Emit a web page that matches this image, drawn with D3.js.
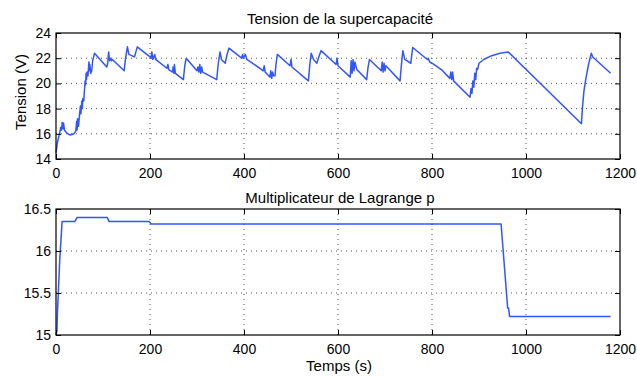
<!DOCTYPE html>
<html><head><meta charset="utf-8">
<script src="https://cdn.jsdelivr.net/npm/d3@7"></script>
<style>
body{margin:0;background:#fff;}
text{font-family:"Liberation Sans",Arial,Helvetica,sans-serif;fill:#000;}
</style></head>
<body>
<svg id="c" width="637" height="376"></svg>
<script>
// Time (s) and voltage (V) of the supercapacitor
const tensionT = [0,3,8,10,12,13,15,16,18,22,30,38,42,44,45,46,48,50,52,53,55,56,57,59,62,63,64,65,66,68,70,71,72,74,76,78,80,82,108,110,112,114,116,118,120,145,148,152,155,167,170,173,200,202,204,206,210,212,236,238,240,248,249,251,252,254,271,274,277,300,302,304,306,308,310,312,342,345,349,352,360,364,368,395,397,399,403,406,434,441,443,445,450,455,457,459,461,463,466,468,471,498,500,502,537,540,543,548,555,560,564,596,598,600,626,628,630,632,634,636,640,661,664,667,692,694,696,698,700,702,732,735,738,742,755,757,759,790,792,795,800,820,838,840,842,844,846,881,883,885,887,889,891,893,895,897,900,910,927,945,962,1118,1120,1123,1127,1133,1139,1142,1180];
const tensionV = [14.5,15.3,16.1,16.5,16.3,16.9,16.4,16.85,16.3,16.1,15.9,16.0,16.2,17.0,16.3,17.2,16.6,17.5,18.2,17.6,18.6,18.0,18.8,18.6,20.2,19.9,20.8,20.3,20.9,20.6,21.7,21.0,21.5,20.8,21.0,21.8,22.1,22.4,21.3,21.6,22.5,21.8,22.0,21.8,21.9,21.0,22.0,22.9,22.3,22.1,22.5,22.9,22.1,22.0,22.5,21.9,22.3,21.9,21.2,21.5,21.1,20.9,21.3,20.8,21.5,20.8,20.3,21.4,22.0,21.0,21.3,20.9,21.5,20.8,21.3,20.9,20.3,21.5,22.5,21.9,21.6,22.3,22.8,22.0,22.3,22.0,22.3,21.9,21.2,21.0,21.4,20.9,20.7,20.5,21.0,20.4,20.9,20.6,20.6,21.5,22.3,21.4,21.9,21.3,20.2,21.5,22.4,21.9,21.6,22.2,22.6,21.5,22.0,21.4,20.5,21.8,20.8,21.9,21.0,21.7,21.1,20.3,21.3,21.9,21.0,21.7,20.9,21.6,21.0,21.4,20.2,21.5,22.6,21.9,21.6,22.3,22.85,21.9,22.0,21.7,21.6,21.1,20.4,20.9,20.3,20.9,20.2,18.9,19.6,19.2,20.2,19.7,20.8,20.3,21.2,21.1,21.6,21.9,22.2,22.4,22.5,16.8,18.0,19.3,20.3,21.5,22.4,22.1,20.8];
// Lagrange multiplier p
const lagT = [0,2,3,8,13,40,45,109,113,198,203,947,961,963,965,1180];
const lagP = [15.0,15.05,15.25,15.9,16.35,16.35,16.40,16.40,16.35,16.35,16.32,16.32,15.32,15.32,15.22,15.22];

const xTicks = [0,200,400,600,800,1000,1200];
const yTicks1 = [14,16,18,20,22,24];
const yTicks2 = [15,15.5,16,16.5];

const svg = d3.select("#c");
const X0 = 56, X1 = 620;
const x = d3.scaleLinear().domain([0,1200]).range([X0,X1]);
const lineColor = "#3355ff";

function panel(top, bottom, yDomain, yTicks, tArr, vArr, title, titleY) {
  const y = d3.scaleLinear().domain(yDomain).range([bottom, top]);
  const g = svg.append("g");
  // grid
  g.append("g").selectAll("line").data(xTicks.slice(1,-1)).join("line")
    .attr("x1", d=>x(d)).attr("x2", d=>x(d)).attr("y1", top).attr("y2", bottom)
    .attr("stroke","#555").attr("stroke-width",1).attr("stroke-dasharray","1,4");
  g.append("g").selectAll("line").data(yTicks.slice(1,-1)).join("line")
    .attr("y1", d=>y(d)).attr("y2", d=>y(d)).attr("x1", X0).attr("x2", X1)
    .attr("stroke","#555").attr("stroke-width",1).attr("stroke-dasharray","1,4");
  // line
  const line = d3.line().x((d,i)=>x(tArr[i])).y(d=>y(d));
  g.append("path").datum(vArr).attr("d", line)
    .attr("fill","none").attr("stroke",lineColor).attr("stroke-width",1.5)
    .attr("stroke-linejoin","round");
  // axes (inward ticks)
  const ax = g.append("g").attr("transform",`translate(0,${bottom})`)
    .call(d3.axisBottom(x).tickValues(xTicks).tickSize(-5).tickPadding(9).tickFormat(d3.format("d")));
  const axT = g.append("g").attr("transform",`translate(0,${top})`)
    .call(d3.axisTop(x).tickValues(xTicks).tickSize(-5).tickFormat(""));
  const ay = g.append("g").attr("transform",`translate(${X0},0)`)
    .call(d3.axisLeft(y).tickValues(yTicks).tickSize(-5).tickPadding(5).tickFormat(d=>String(d)));
  const ayR = g.append("g").attr("transform",`translate(${X1},0)`)
    .call(d3.axisRight(y).tickValues(yTicks).tickSize(-5).tickFormat(""));
  [ax,axT,ay,ayR].forEach(a=>{
    a.select(".domain").remove();
    a.selectAll("line").attr("stroke","#000");
    a.selectAll("text").style("font-size","14px").attr("fill","#000");
  });
  g.append("rect").attr("x",X0).attr("y",top).attr("width",X1-X0).attr("height",bottom-top)
    .attr("fill","none").attr("stroke","#000").attr("stroke-width",1.2);
  g.append("text").attr("x",(X0+X1)/2 + 2).attr("y",titleY).attr("text-anchor","middle")
    .style("font-size","15px").text(title);
  return y;
}

panel(33, 159, [14,24], yTicks1, tensionT, tensionV, "Tension de la supercapacité", 24);
panel(209, 335, [15,16.5], yTicks2, lagT, lagP, "Multiplicateur de Lagrange p", 203);

svg.append("text").attr("transform","translate(26,92) rotate(-90)").attr("text-anchor","middle")
  .style("font-size","15px").text("Tension (V)");
svg.append("text").attr("x",(X0+X1)/2 + 1).attr("y",371).attr("text-anchor","middle")
  .style("font-size","15px").text("Temps (s)");
</script>
</body></html>
